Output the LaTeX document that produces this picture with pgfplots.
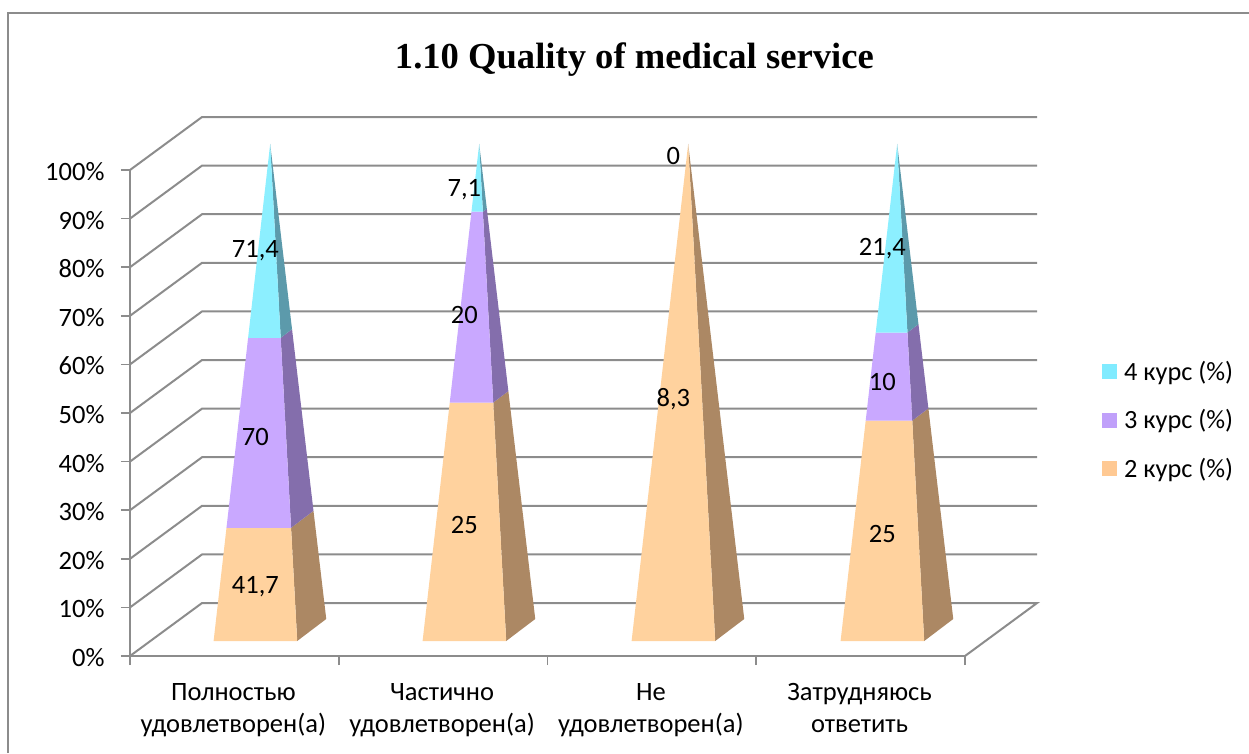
\documentclass[border=0pt]{standalone}
\usepackage{pgfplots}
\pgfplotsset{compat=1.18}
\usepackage{fontspec}
\setmainfont{Carlito}
\newfontfamily\titlefont{Liberation Serif}
\definecolor{grid}{HTML}{8C8C8C}
\definecolor{pf}{HTML}{FFD29E}
\definecolor{ps}{HTML}{AC8864}
\definecolor{vf}{HTML}{C9A8FF}
\definecolor{vs}{HTML}{846EAC}
\definecolor{cf}{HTML}{8CEFFF}
\definecolor{cs}{HTML}{5C9AAB}
\definecolor{lc}{HTML}{80EBFF}
\definecolor{lv}{HTML}{C0A0FA}
\definecolor{lp}{HTML}{FFC993}
\pgfplotsset{gl/.style={draw=grid,line width=2pt,no markers,line join=miter},
  fc/.style={draw=none,fill=#1,no markers}}
\begin{document}
\begin{tikzpicture}[x=1pt,y=1pt]
\path[use as bounding box] (0,0) rectangle (1249,753);
\draw[grid,line width=1.5pt] (8,0) -- (8,740) -- (1249,740);
\begin{axis}[at={(130pt,97pt)},anchor=origin,name=main,
  scale only axis,width=835pt,height=486pt,
  xmin=0,xmax=4,ymin=0,ymax=100,clip=false,
  axis x line*=bottom,axis y line*=left,
  axis line style={draw=grid,line width=2pt,-},
  tick align=outside,
  ytick={0,10,...,100},
  yticklabel={\pgfmathprintnumber[assume math mode=true]{\tick}\%},
  yticklabel style={font=\fontsize{26.5}{30}\selectfont,xshift=-13pt,yshift=-1.5pt},
  xtick={0.5,1.5,2.5,3.5},
  minor xtick={0,1,2,3,4},
  xticklabels={{Полностью\\удовлетворен(а)},{Частично\\удовлетворен(а)},{Не\\удовлетворен(а)},{Затрудняюсь\\ответить}},
  xticklabel style={align=center,font=\fontsize{26.5}{32}\selectfont,yshift=-15pt,xshift=-1pt},
  major tick length=9pt,minor tick length=9pt,
  tick style={draw=grid,line width=1.7pt},
  major x tick style={draw=none},
  title={\titlefont\bfseries\fontsize{36.6}{40}\selectfont 1.10 Quality of medical service},
  title style={at={(0.604,1.2325)},anchor=center,yshift=-9pt},
  legend style={at={(1.164,0.4856)},anchor=west,draw=none,fill=none,row sep=23.5pt,
    font=\fontsize{26.3}{30}\selectfont,inner sep=0pt,
    /tikz/every odd column/.style={column sep=5pt}},
  legend cell align=left,
]
\addlegendimage{legend image code/.code={\path[fill=lc,draw=none] (0pt,-7.5pt) rectangle (15pt,7.5pt);}}
\addlegendentry{4 курс (\%)}
\addlegendimage{legend image code/.code={\path[fill=lv,draw=none] (0pt,-7.5pt) rectangle (15pt,7.5pt);}}
\addlegendentry{3 курс (\%)}
\addlegendimage{legend image code/.code={\path[fill=lp,draw=none] (0pt,-7.5pt) rectangle (15pt,7.5pt);}}
\addlegendentry{2 курс (\%)}
% floor and back-wall grid (front-left edge, then back wall)
\addplot[gl,forget plot] coordinates {(0,0) (0.345,10.9) (4.345,10.9) (4,0)};
\addplot[gl,forget plot] coordinates {(0,10) (0.345,20.9) (4.345,20.9)};
\addplot[gl,forget plot] coordinates {(0,20) (0.345,30.9) (4.345,30.9)};
\addplot[gl,forget plot] coordinates {(0,30) (0.345,40.9) (4.345,40.9)};
\addplot[gl,forget plot] coordinates {(0,40) (0.345,50.9) (4.345,50.9)};
\addplot[gl,forget plot] coordinates {(0,50) (0.345,60.9) (4.345,60.9)};
\addplot[gl,forget plot] coordinates {(0,60) (0.345,70.9) (4.345,70.9)};
\addplot[gl,forget plot] coordinates {(0,70) (0.345,80.9) (4.345,80.9)};
\addplot[gl,forget plot] coordinates {(0,80) (0.345,90.9) (4.345,90.9)};
\addplot[gl,forget plot] coordinates {(0,90) (0.345,100.9) (4.345,100.9)};
\addplot[gl,forget plot] coordinates {(0,100) (0.345,110.9) (4.345,110.9)};
\end{axis}
% pyramids: y is the cumulative share (0-100 %) along the pyramid's height
\begin{axis}[at={(130pt,112pt)},anchor=origin,
  scale only axis,width=836pt,height=497pt,
  xmin=0,xmax=4,ymin=0,ymax=100,clip=false,hide axis]
% 1
\addplot[fc=ps] coordinates {(0.8,0) (0.939,4.43) (0.8779,26.19) (0.7706,22.77)} -- cycle;
\addplot[fc=pf] coordinates {(0.4,0) (0.8,0) (0.7706,22.77) (0.4616,22.77)} -- cycle;
\addplot[fc=vs] coordinates {(0.7706,22.77) (0.8779,26.19) (0.7753,62.73) (0.7211,61)} -- cycle;
\addplot[fc=vf] coordinates {(0.4616,22.77) (0.7706,22.77) (0.7211,61) (0.5651,61)} -- cycle;
\addplot[fc=cs] coordinates {(0.7211,61) (0.7753,62.73) (0.6707,100)} -- cycle;
\addplot[fc=cf] coordinates {(0.5651,61) (0.7211,61) (0.6707,100)} -- cycle;
% 2
\addplot[fc=ps] coordinates {(1.8,0) (1.939,4.43) (1.8103,50.28) (1.738,47.98)} -- cycle;
\addplot[fc=pf] coordinates {(1.4,0) (1.8,0) (1.738,47.98) (1.5299,47.98)} -- cycle;
\addplot[fc=vs] coordinates {(1.738,47.98) (1.8103,50.28) (1.7073,86.97) (1.6883,86.37)} -- cycle;
\addplot[fc=vf] coordinates {(1.5299,47.98) (1.738,47.98) (1.6883,86.37) (1.6338,86.37)} -- cycle;
\addplot[fc=cs] coordinates {(1.6883,86.37) (1.7073,86.97) (1.6707,100)} -- cycle;
\addplot[fc=cf] coordinates {(1.6338,86.37) (1.6883,86.37) (1.6707,100)} -- cycle;
% 3
\addplot[fc=ps] coordinates {(2.8,0) (2.939,4.43) (2.6707,100)} -- cycle;
\addplot[fc=pf] coordinates {(2.4,0) (2.8,0) (2.6707,100)} -- cycle;
% 4
\addplot[fc=ps] coordinates {(3.8,0) (3.939,4.43) (3.8201,46.8) (3.7427,44.33)} -- cycle;
\addplot[fc=pf] coordinates {(3.4,0) (3.8,0) (3.7427,44.33) (3.52,44.33)} -- cycle;
\addplot[fc=vs] coordinates {(3.7427,44.33) (3.8201,46.8) (3.7725,63.74) (3.7198,62.06)} -- cycle;
\addplot[fc=vf] coordinates {(3.52,44.33) (3.7427,44.33) (3.7198,62.06) (3.568,62.06)} -- cycle;
\addplot[fc=cs] coordinates {(3.7198,62.06) (3.7725,63.74) (3.6707,100)} -- cycle;
\addplot[fc=cf] coordinates {(3.568,62.06) (3.7198,62.06) (3.6707,100)} -- cycle;
% data labels
\addplot[draw=none,no markers,nodes near coords,point meta=explicit symbolic,
  nodes near coords style={anchor=center,inner sep=0pt,text=black,font=\fontsize{26.5}{30}\selectfont}]
  table[x=x,y=y,meta=l] {
x y l
0.6 10.9 41,7
0.6 41.0 70
0.6 78.6 71,4
1.6 23.3 25
1.6 65.6 20
1.6 90.9 7,1
2.6 48.6 8,3
2.6 97.6 0
3.6 21.5 25
3.6 52.1 10
3.6 79.0 21,4
};
\end{axis}
\end{tikzpicture}
\end{document}
